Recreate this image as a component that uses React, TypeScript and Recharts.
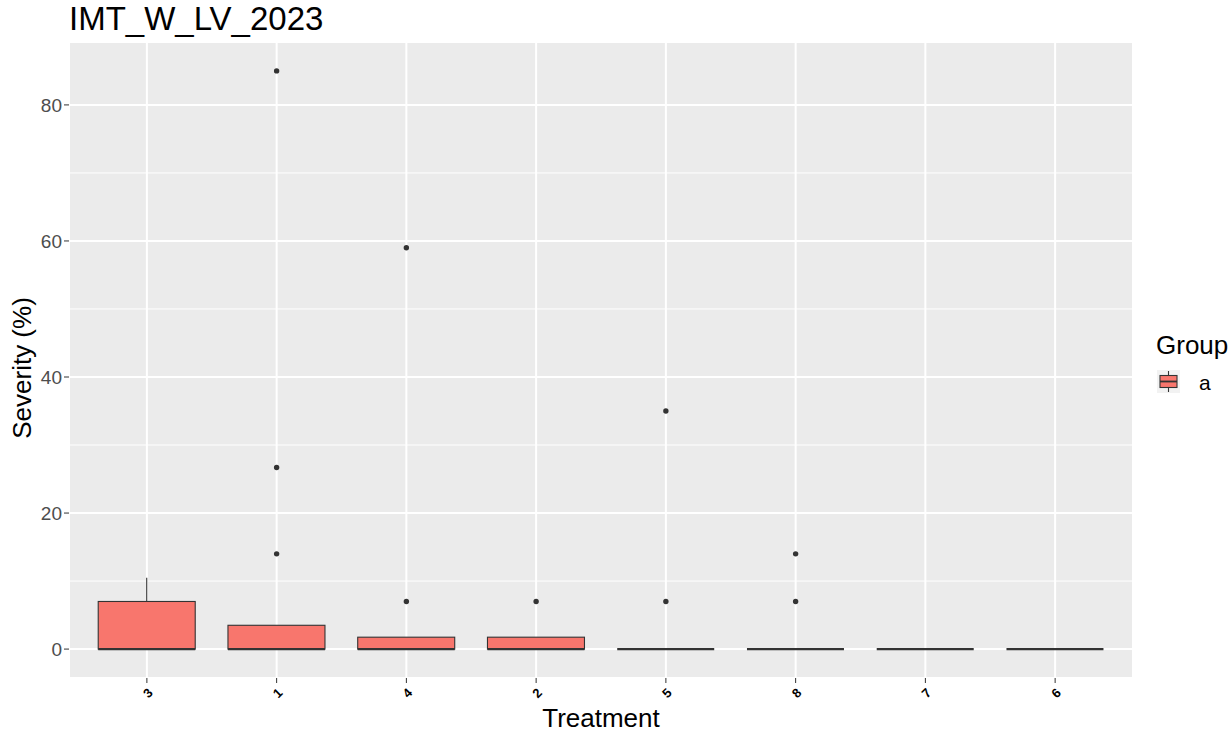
import React from 'react';
import {
  ComposedChart,
  Bar,
  Scatter,
  XAxis,
  YAxis,
  CartesianGrid,
} from 'recharts';

// box statistics per treatment (ordered as on the axis)
const TREATMENTS = ['3', '1', '4', '2', '5', '8', '7', '6'];
const WHISKER_LO = [0, 0, 0, 0, 0, 0, 0, 0];
const Q1 = [0, 0, 0, 0, 0, 0, 0, 0];
const MEDIAN = [0, 0, 0, 0, 0, 0, 0, 0];
const Q3 = [7, 3.5, 1.75, 1.75, 0, 0, 0, 0];
const WHISKER_HI = [10.5, 3.5, 1.75, 1.75, 0, 0, 0, 0];

// outlier points
const OUTLIER_TREATMENT = ['1', '1', '1', '4', '4', '2', '5', '5', '8', '8'];
const OUTLIER_VALUE = [14, 26.7, 85, 7, 59, 7, 7, 35, 7, 14];

const Y_TICKS = [0, 20, 40, 60, 80];
const Y_MINOR = [10, 30, 50, 70];
const Y_DOMAIN: [number, number] = [-4.25, 89.25];

const FONT = '"Liberation Sans", Arial, sans-serif';
const FILL = '#F8766D';
const INK = '#333333';

const boxData = TREATMENTS.map((name, i) => ({
  name,
  lo: WHISKER_LO[i],
  q1: Q1[i],
  median: MEDIAN[i],
  q3: Q3[i],
  hi: WHISKER_HI[i],
}));

const outlierData = OUTLIER_TREATMENT.map((name, i) => ({
  name,
  value: OUTLIER_VALUE[i],
}));

// the bar spans the whole y domain, so its rect gives the value->pixel mapping
const BoxShape = (props: any) => {
  const { x, y, width, height, payload } = props;
  const span = Y_DOMAIN[1] - Y_DOMAIN[0];
  const toY = (v: number) => y + (height * (Y_DOMAIN[1] - v)) / span;
  const cx = x + width / 2;
  const yQ1 = toY(payload.q1);
  const yQ3 = toY(payload.q3);
  return (
    <g>
      {payload.hi > payload.q3 && (
        <line x1={cx} x2={cx} y1={yQ3} y2={toY(payload.hi)} stroke={INK} strokeWidth={1.1} />
      )}
      {payload.lo < payload.q1 && (
        <line x1={cx} x2={cx} y1={yQ1} y2={toY(payload.lo)} stroke={INK} strokeWidth={1.1} />
      )}
      <rect
        x={x}
        y={yQ3}
        width={width}
        height={Math.max(0, yQ1 - yQ3)}
        fill={FILL}
        stroke={INK}
        strokeWidth={1.1}
      />
      <line
        x1={x}
        x2={x + width}
        y1={toY(payload.median)}
        y2={toY(payload.median)}
        stroke={INK}
        strokeWidth={2.2}
      />
    </g>
  );
};

const XTick = (props: any) => {
  const { x, y, payload } = props;
  return (
    <g transform={`translate(${x + 1},${y + 8})`}>
      <text
        transform="rotate(-45)"
        textAnchor="middle"
        dominantBaseline="central"
        fontSize={13}
        fontWeight={700}
        fontFamily={FONT}
        fill="#000"
      >
        {payload.value}
      </text>
    </g>
  );
};

const YLabel = (props: any) => {
  const { viewBox } = props;
  const cx = viewBox.x + 22;
  const cy = viewBox.y + viewBox.height / 2 + 8;
  return (
    <text
      x={cx}
      y={cy}
      transform={`rotate(-90, ${cx}, ${cy})`}
      textAnchor="middle"
      dominantBaseline="central"
      fontSize={26}
      fontFamily={FONT}
      fill="#000"
    >
      Severity (%)
    </text>
  );
};

export default function App() {
  return (
    <div
      style={{
        position: 'absolute',
        left: 0,
        top: 0,
        width: 1230,
        height: 734,
        background: '#fff',
        fontFamily: FONT,
        overflow: 'hidden',
      }}
    >
      <div
        style={{
          position: 'absolute',
          left: 69,
          top: 0,
          fontSize: 33,
          lineHeight: '38px',
          color: '#000',
        }}
      >
        IMT_W_LV_2023
      </div>

      <ComposedChart
        width={1230}
        height={734}
        data={boxData}
        margin={{ top: 42, right: 97, bottom: 0, left: 0 }}
        barCategoryGap="12.5%"
      >
        <CartesianGrid fill="#EBEBEB" stroke="#FFFFFF" strokeWidth={2} />
        <CartesianGrid
          yAxisId="minor"
          vertical={false}
          fill="none"
          stroke="#FFFFFF"
          strokeWidth={1}
        />
        <XAxis
          dataKey="name"
          type="category"
          allowDuplicatedCategory={false}
          padding={{ left: 13, right: 13 }}
          height={56}
          axisLine={false}
          tickLine={{ stroke: INK }}
          tickSize={5}
          tickMargin={2}
          tick={<XTick />}
          label={{
            value: 'Treatment',
            position: 'insideBottom',
            offset: 7,
            fontSize: 26,
            fill: '#000',
            fontFamily: FONT,
          }}
        />
        <YAxis
          domain={Y_DOMAIN}
          ticks={Y_TICKS}
          type="number"
          allowDataOverflow
          width={69}
          axisLine={false}
          tickLine={{ stroke: INK }}
          tickSize={5}
          tickMargin={2}
          tick={{ fill: '#4D4D4D', fontSize: 19, fontFamily: FONT }}
          label={<YLabel />}
        />
        <YAxis
          yAxisId="minor"
          domain={Y_DOMAIN}
          ticks={Y_MINOR}
          type="number"
          allowDataOverflow
          hide
        />
        <Bar
          dataKey={() => Y_DOMAIN}
          shape={(p: any) => <BoxShape {...p} />}
          isAnimationActive={false}
        />
        <Scatter
          data={outlierData}
          dataKey="value"
          fill={INK}
          shape={(p: any) => <circle cx={p.cx} cy={p.cy} r={2.7} fill={INK} />}
          isAnimationActive={false}
        />
      </ComposedChart>

      <div
        style={{
          position: 'absolute',
          left: 1156,
          top: 329,
          fontSize: 26,
          lineHeight: '32px',
          color: '#000',
          whiteSpace: 'nowrap',
        }}
      >
        Group
      </div>
      <svg
        style={{ position: 'absolute', left: 1157, top: 370 }}
        width={23}
        height={23}
      >
        <rect x={0} y={0} width={23} height={23} fill="#F2F2F2" />
        <line x1={11.5} x2={11.5} y1={1} y2={22} stroke={INK} strokeWidth={1.1} />
        <rect x={3} y={5.5} width={17} height={12} fill={FILL} stroke={INK} strokeWidth={1.1} />
        <line x1={3} x2={20} y1={11.5} y2={11.5} stroke={INK} strokeWidth={1.8} />
      </svg>
      <div
        style={{
          position: 'absolute',
          left: 1199,
          top: 370,
          fontSize: 21,
          lineHeight: '26px',
          color: '#000',
        }}
      >
        a
      </div>
    </div>
  );
}
